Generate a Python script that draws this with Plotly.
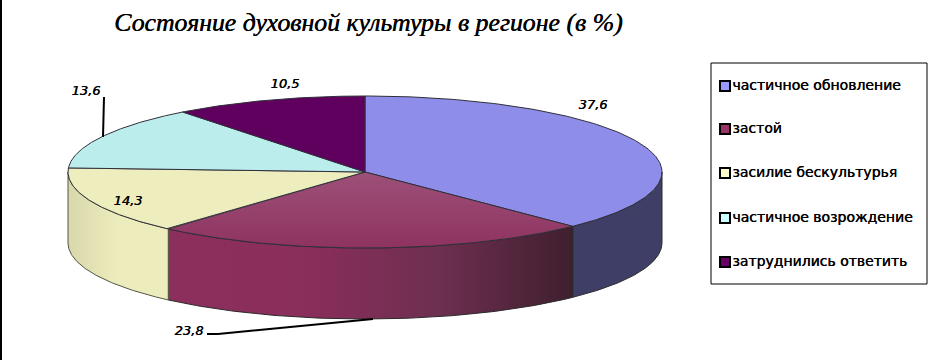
import numpy as np
import plotly.graph_objects as go

title = "Состояние духовной культуры в регионе (в %)"
categories = ["частичное обновление", "застой", "засилие бескультурья", "частичное возрождение", "затруднились ответить"]
values = [37.6, 23.8, 14.3, 13.6, 10.5]
value_labels = ["37,6", "23,8", "14,3", "13,6", "10,5"]
top_colors = ["#8E8EEA", "#933A66", "#EDEDBE", "#BBEDED", "#5F005F"]
swatch_colors = ["#9999FF", "#993366", "#FFFFCC", "#CCFFFF", "#660066"]
side_scales = [
    ["#3E3E66", "#3E3E66"],
    ["#8C2F5C", "#8A2E5B", "#6E2F50", "#3F1F2E"],
    ["#D8D8AC", "#ECECBC", "#ECECBC"],
    ["#BBEDED", "#BBEDED"],
    ["#5F005F", "#5F005F"],
]
label_x = [593, 189, 128, 86, 285]
label_y = [106, 332, 202, 92, 85]
legend_y = [86, 129, 173, 218, 262]

CX, CY, RX, RY, DEPTH = 365, 172, 297, 76, 71
FAUX_BOLD = "0.4px 0 0 black"


def ell(theta, dy=0):
    return CX + RX * np.sin(theta), CY - RY * np.cos(theta) + dy


fig = go.Figure()
cum = np.concatenate([[0], np.cumsum(values)]) / sum(values) * 2 * np.pi

# side walls
for i in range(len(values)):
    a, b = max(cum[i], np.pi / 2), min(cum[i + 1], 3 * np.pi / 2)
    if b <= a:
        continue
    t = np.linspace(a, b, 100)
    x1, y1 = ell(t)
    x2, y2 = ell(t[::-1], DEPTH)
    x = np.r_[x1, x2, x1[0]]
    y = np.r_[y1, y2, y1[0]]
    scale = side_scales[i]
    fig.add_trace(go.Scatter(
        x=x, y=y, mode="lines", fill="toself",
        line=dict(color="#2A2A2A" if i != 2 else "#555544", width=1),
        fillgradient=dict(
            type="horizontal",
            colorscale=[[k / (len(scale) - 1), c] for k, c in enumerate(scale)],
        ),
        hoverinfo="skip", showlegend=False,
    ))

# top faces
for i in range(len(values)):
    t = np.linspace(cum[i], cum[i + 1], 160)
    ex, ey = ell(t)
    x = np.r_[CX, ex, CX]
    y = np.r_[CY, ey, CY]
    kw = dict(fillcolor=top_colors[i])
    if i == 1:
        kw = dict(fillgradient=dict(
            type="vertical",
            colorscale=[[0, "#8E3360"], [0.45, "#96406C"], [1, "#9C5078"]],
        ))
    fig.add_trace(go.Scatter(
        x=x, y=y, mode="lines", fill="toself",
        line=dict(color="#30303A", width=1),
        hoverinfo="skip", showlegend=False, **kw,
    ))

# leader lines
fig.add_trace(go.Scatter(x=[104, 103], y=[97, 137], mode="lines",
                         line=dict(color="black", width=2), hoverinfo="skip", showlegend=False))
fig.add_trace(go.Scatter(x=[207, 218, 373], y=[334, 334, 319], mode="lines",
                         line=dict(color="black", width=2), hoverinfo="skip", showlegend=False))

# value labels
fig.add_trace(go.Scatter(
    x=label_x, y=label_y, mode="text", text=value_labels,
    textfont=dict(family="DejaVu Sans", size=13, color="black", style="italic", shadow=FAUX_BOLD),
    hoverinfo="skip", showlegend=False,
))

# legend entries
for name, col, ly in zip(categories, swatch_colors, legend_y):
    fig.add_trace(go.Scatter(
        x=[725], y=[ly], mode="markers+text", text=[name], textposition="middle right",
        marker=dict(symbol="square", size=10, color=col, line=dict(color="black", width=2)),
        textfont=dict(family="DejaVu Sans", size=14, color="black", shadow=FAUX_BOLD),
        hoverinfo="skip", showlegend=False, cliponaxis=False,
    ))

fig.update_layout(
    width=931, height=360, margin=dict(l=0, r=0, t=0, b=0),
    paper_bgcolor="white", plot_bgcolor="white", showlegend=False,
    xaxis=dict(range=[0, 931], visible=False, fixedrange=True),
    yaxis=dict(range=[360, 0], visible=False, fixedrange=True),
    shapes=[
        dict(type="rect", x0=711, x1=927, y0=63, y1=284, line=dict(color="black", width=1), layer="below"),
        dict(type="line", x0=1, x1=1, y0=0, y1=360, line=dict(color="black", width=2)),
    ],
    annotations=[dict(
        x=368, y=22, text=title, showarrow=False, xanchor="center", yanchor="middle",
        font=dict(family="Liberation Serif", size=25.8, color="black", style="italic", shadow="0.5px 0 0 black"),
    )],
)
fig.write_html(
    "out.html",
    config=dict(displayModeBar=False),
    post_script="document.body.style.margin='0';document.documentElement.style.overflow='hidden';",
)
